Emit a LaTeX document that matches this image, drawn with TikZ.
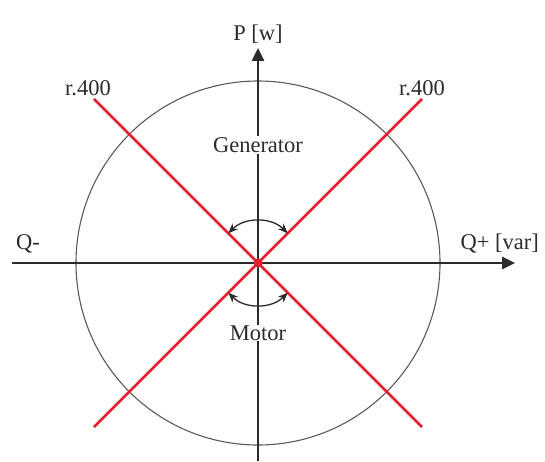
\documentclass[tikz,border=0pt]{standalone}
\usepackage{fontspec}
\setmainfont{Liberation Serif}
\usetikzlibrary{arrows.meta,positioning}
\definecolor{pqred}{HTML}{E3202E}
\definecolor{pqink}{HTML}{2B2B2B}
\definecolor{pqgray}{HTML}{5A5A5A}

\begin{document}
\begin{tikzpicture}[
    x=1pt,
    y=1pt,
    font=\fontsize{22.5}{26}\selectfont,
    axis/.style={-{Triangle[length=13pt,width=12pt]}, line width=2.5pt, draw=pqink},
    ring/.style={line width=1.1pt, draw=pqgray},
    phase/.style={line width=2.6pt, draw=pqred},
    swing/.style={{Stealth[length=10pt,width=8pt]}-{Stealth[length=10pt,width=8pt]}, line width=1.3pt, draw=pqink},
    lbl/.style={text=pqink, inner sep=1pt},
    mode/.style={lbl, fill=white}
  ]
    \useasboundingbox (-258,-198) rectangle (287,263);

    \coordinate (O) at (0,0);
    \coordinate (qneg) at (-246,0);
    \coordinate (qpos) at (257,0);
    \coordinate (pneg) at (0,-198);
    \coordinate (ppos) at (0,215);
    \coordinate (lim1) at (135:232);
    \coordinate (lim2) at (-45:232);
    \coordinate (lim3) at (45:232);
    \coordinate (lim4) at (225:232);

    % capability circle and axes
    \draw[ring] (O) circle[radius=182];
    \draw[axis] (qneg) -- (qpos);
    \draw[axis] (pneg) -- (ppos);

    % limit lines
    \draw[phase] (lim1) -- (lim2);
    \draw[phase] (lim4) -- (lim3);
    \fill[pqred] (O) circle[radius=4.5];

    % operating regions
    \node[mode] (gen) at (0,118) {Generator};
    \node[mode] (mot) at (0,-70) {Motor};
    \draw[swing] (45:42) arc[start angle=45, end angle=135, radius=42];
    \draw[swing] (225:42) arc[start angle=225, end angle=315, radius=42];

    % labels
    \node[lbl, above=3pt of ppos] (plab) {P [w]};
    \node[lbl, above right=9pt and 3pt of qneg] (qnlab) {Q-};
    \node[lbl, above left=9pt and -25pt of qpos] (qplab) {Q+ [var]};
    \node[lbl, above=2pt of lim1, xshift=-6pt] (rlab1) {r.400};
    \node[lbl, above=2pt of lim3] (rlab2) {r.400};
  \end{tikzpicture}
\end{document}
